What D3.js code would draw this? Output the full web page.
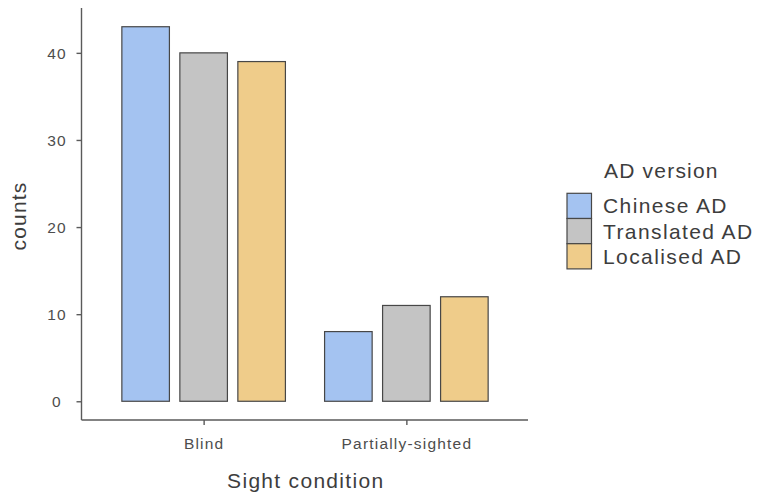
<!DOCTYPE html>
<html>
<head>
<meta charset="utf-8">
<script src="https://cdn.jsdelivr.net/npm/d3@7"></script>
<style>
  body { margin: 0; background: #fff; }
  text { font-family: "Liberation Sans", Arial, sans-serif; }
</style>
</head>
<body>
<svg id="chart" width="759" height="497"></svg>
<script>
const conditions = ["Blind", "Partially-sighted"];
const versions = ["Chinese AD", "Translated AD", "Localised AD"];
const chineseAD = [43, 8];
const translatedAD = [40, 11];
const localisedAD = [39, 12];
const yTicks = [0, 10, 20, 30, 40];
const versionColors = ["#A4C3F1", "#C4C4C4", "#EFCC8A"];

const seriesValues = [chineseAD, translatedAD, localisedAD];
const rows = [];
conditions.forEach((c, ci) => {
  versions.forEach((v, vi) => rows.push({ condition: c, version: v, value: seriesValues[vi][ci] }));
});

const svg = d3.select("#chart");
const pLeft = 81.5, pRight = 528, pTop = 8, pBottom = 420;

const x0 = d3.scalePoint().domain(conditions).range([pLeft + 0.5, pRight]).padding(0.6);
const x1 = d3.scaleBand().domain(versions).range([-87, 87]).paddingInner(0.18).paddingOuter(0.09);
const maxV = d3.max(rows, d => d.value);
const pad = maxV * 0.05;
const y = d3.scaleLinear().domain([-pad, maxV + pad]).range([pBottom, pTop]);
const color = d3.scaleOrdinal().domain(versions).range(versionColors);

// bars
svg.append("g").selectAll("rect").data(rows).join("rect")
  .attr("x", d => x0(d.condition) + x1(d.version))
  .attr("y", d => y(d.value))
  .attr("width", x1.bandwidth())
  .attr("height", d => y(0) - y(d.value))
  .attr("fill", d => color(d.version))
  .attr("stroke", "#474747")
  .attr("stroke-width", 1.2);

// y axis
const yAxis = svg.append("g").attr("transform", `translate(${pLeft},0)`)
  .call(d3.axisLeft(y).tickValues(yTicks).tickSize(5).tickPadding(0));
yAxis.select(".domain").attr("stroke", "#5a5a5a").attr("stroke-width", 1.4)
  .attr("d", `M0,${pTop}V${pBottom}`);
yAxis.selectAll(".tick line").attr("stroke", "#5a5a5a").attr("stroke-width", 1.4);
yAxis.selectAll(".tick text")
  .attr("x", -24.5).attr("dy", "0.36em")
  .attr("text-anchor", "middle")
  .attr("fill", "#4d4d4d")
  .style("font-size", "15.5px").style("letter-spacing", "1.2px");

// x axis
const xAxis = svg.append("g").attr("transform", `translate(0,${pBottom})`)
  .call(d3.axisBottom(x0).tickSize(5).tickPadding(0));
xAxis.select(".domain").attr("stroke", "#5a5a5a").attr("stroke-width", 1.4)
  .attr("d", `M${pLeft},0H${pRight}`);
xAxis.selectAll(".tick line").attr("stroke", "#5a5a5a").attr("stroke-width", 1.4);
xAxis.selectAll(".tick text")
  .attr("y", 29).attr("dy", 0)
  .attr("fill", "#4d4d4d")
  .style("font-size", "15.5px").style("letter-spacing", "1.2px");

// axis titles
svg.append("text")
  .attr("x", (pLeft + pRight) / 2 + 1).attr("y", 488)
  .attr("text-anchor", "middle").attr("fill", "#3d3d3d")
  .style("font-size", "21px").style("letter-spacing", "1.3px")
  .text("Sight condition");
svg.append("text")
  .attr("transform", `translate(26,${(pTop + pBottom) / 2 + 2}) rotate(-90)`)
  .attr("text-anchor", "middle").attr("fill", "#3d3d3d")
  .style("font-size", "21px").style("letter-spacing", "1.2px")
  .text("counts");

// legend
const lg = svg.append("g");
lg.append("text").attr("x", 604).attr("y", 178)
  .attr("fill", "#3d3d3d")
  .style("font-size", "21px").style("letter-spacing", "1.2px")
  .text("AD version");
const keyTop = 193.3, keySize = 25.2;
versions.forEach((v, i) => {
  lg.append("rect")
    .attr("x", 567).attr("y", keyTop + i * keySize)
    .attr("width", 24.5).attr("height", keySize)
    .attr("fill", color(v)).attr("stroke", "#474747").attr("stroke-width", 1.2);
  lg.append("text")
    .attr("x", 603).attr("y", keyTop + i * keySize + keySize / 2 + 7.5)
    .attr("fill", "#3d3d3d")
    .style("font-size", "21px").style("letter-spacing", "1.4px")
    .text(v);
});
</script>
</body>
</html>
